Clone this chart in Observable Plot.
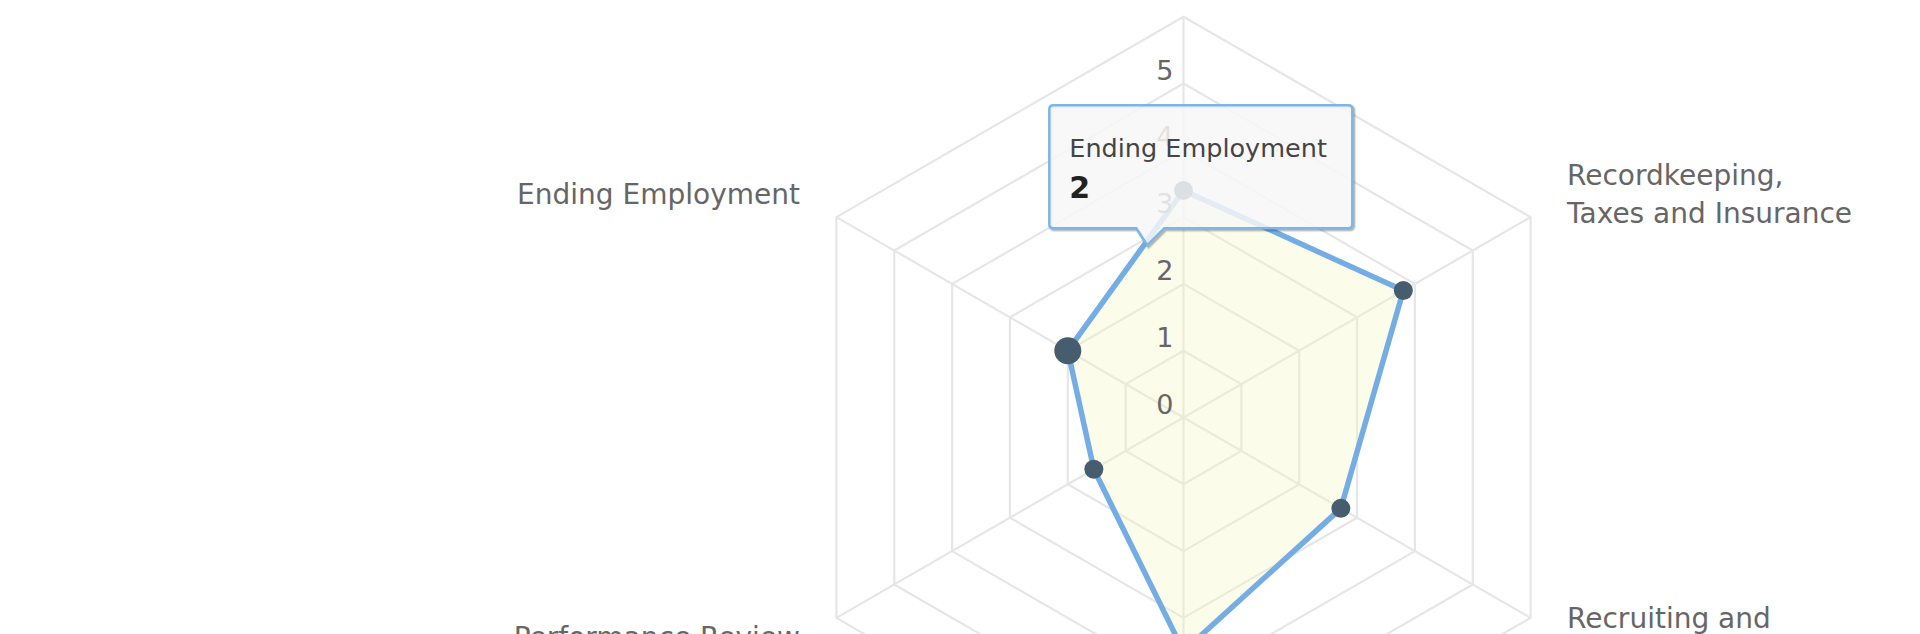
<!DOCTYPE html>
<html><head><meta charset="utf-8">
<script src="https://cdn.jsdelivr.net/npm/d3@7"></script>
<script src="https://cdn.jsdelivr.net/npm/@observablehq/plot@0.6"></script>
<style>
html,body{margin:0;padding:0;background:#fff;overflow:hidden;}
#chart{position:relative;width:1920px;height:634px;}
</style></head><body><div id="chart"></div>
<script>
// ---- data ----
const categories = ["Compensation and Benefits", "Recordkeeping,\nTaxes and Insurance", "Recruiting and\nHiring", "Training and Development", "Performance Review", "Ending Employment"];
const values = [3.4, 3.8, 2.72, 3.5, 1.55, 2];
const tickValues = [0, 1, 2, 3, 4, 5];
const gridLevels = [1, 2, 3, 4, 5, 6];
const hoveredCategory = "Ending Employment";
const tooltipHeader = "Ending Employment";
const tooltipValue = "2";

// ---- geometry ----
const W = 1920, H = 634;
const cxPx = 1183, cyPx = 417, unit = 66.8;
const maxR = 6;
const n = categories.length;
const ang = i => i * 2 * Math.PI / n;
const px = (r, i) => r * Math.sin(ang(i));
const py = (r, i) => r * Math.cos(ang(i));

const seriesPts = values.map((v, i) => ({cat: categories[i], v, x: px(v, i), y: py(v, i), hover: categories[i] === hoveredCategory}));
const gridPts = gridLevels.flatMap(l => d3.range(n).map(i => ({level: l, x: px(l, i), y: py(l, i)})));
const spokes = categories.map((c, i) => ({x1: 0, y1: 0, x2: px(maxR, i), y2: py(maxR, i)}));
const labelR = maxR + 0.63;
const labels = categories.map((c, i) => ({text: c, x: px(labelR, i), y: py(labelR, i), s: Math.sin(ang(i))}));
const yDom = [-(H - cyPx) / unit, cyPx / unit];
const inFrame = d => d.y > yDom[0] - 0.3 && d.y < yDom[1];

const plot = Plot.plot({
  width: W, height: H,
  margin: 0,
  x: {domain: [-cxPx / unit, (W - cxPx) / unit], range: [0, W], axis: null},
  y: {domain: yDom, range: [H, 0], axis: null},
  style: {fontFamily: "DejaVu Sans", fontSize: "28px", color: "#666", background: "#fff"},
  marks: [
    Plot.line(gridPts, {x: "x", y: "y", z: "level", curve: "linear-closed", stroke: "#e6e6e6", strokeWidth: 2.2}),
    Plot.link(spokes, {x1: "x1", y1: "y1", x2: "x2", y2: "y2", stroke: "#e6e6e6", strokeWidth: 2.2}),
    Plot.line(seriesPts, {x: "x", y: "y", curve: "linear-closed", fill: "#f6f6c0", fillOpacity: 0.32, stroke: "none"}),
    Plot.line(seriesPts, {x: "x", y: "y", curve: "linear-closed", stroke: "#74ace4", strokeWidth: 5.5, strokeLinejoin: "round"}),
    Plot.dot(seriesPts.filter(d => !d.hover), {x: "x", y: "y", r: 9.5, fill: "#465d6f", stroke: "none"}),
    Plot.dot(seriesPts.filter(d => d.hover), {x: "x", y: "y", r: 13.5, fill: "#465d6f", stroke: "none"}),
    Plot.text(tickValues, {x: () => 0, y: d => d, text: d => String(d), textAnchor: "end", lineAnchor: "bottom", dx: -10, dy: -4, fill: "#666", fontSize: 27}),
    Plot.text(labels.filter(d => d.s > 0.1 && inFrame(d)), {x: "x", y: "y", text: "text", textAnchor: "start", lineAnchor: "middle", lineHeight: 1.36, dy: -4, fill: "#666"}),
    Plot.text(labels.filter(d => d.s < -0.1 && inFrame(d)), {x: "x", y: "y", text: "text", textAnchor: "end", lineAnchor: "middle", lineHeight: 1.36, dy: -4, fill: "#666"}),
    Plot.text(labels.filter(d => Math.abs(d.s) <= 0.1 && inFrame(d)), {x: "x", y: "y", text: "text", textAnchor: "middle", lineAnchor: "middle", lineHeight: 1.36, fill: "#666"})
  ]
});
document.getElementById("chart").appendChild(plot);

// ---- tooltip, anchored to the hovered point through the plot's scales ----
const hp = seriesPts.find(d => d.hover);
const sx = plot.scale("x"), sy = plot.scale("y");
const X = sx.apply(hp.x), Y = sy.apply(hp.y);
const L = X - 18, T = Y - 245, Rr = X + 285, B = Y - 122, rad = 4;
const bl = X + 69, tipX = X + 80, tipY = Y - 105, br = X + 97;
const pathD = `M${L + rad},${T} H${Rr - rad} Q${Rr},${T} ${Rr},${T + rad} V${B - rad} Q${Rr},${B} ${Rr - rad},${B} H${br} L${tipX},${tipY} L${bl},${B} H${L + rad} Q${L},${B} ${L},${B - rad} V${T + rad} Q${L},${T} ${L + rad},${T} Z`;
const svg = d3.select(plot);
const g = svg.append("g").attr("text-anchor", "start");
[[5, 0.05], [3.5, 0.1], [2, 0.15]].forEach(([w, o]) => {
  g.append("path").attr("d", pathD).attr("transform", "translate(1.5,1.5)")
    .attr("fill", "none").attr("stroke", "#000").attr("stroke-opacity", o).attr("stroke-width", w);
});
g.append("path").attr("d", pathD).attr("fill", "#f7f7f7").attr("fill-opacity", 0.85)
  .attr("stroke", "#7cb5ec").attr("stroke-width", 2.5);
g.append("text").attr("x", X + 2).attr("y", Y - 193).attr("fill", "#444").attr("text-anchor", "start")
  .attr("font-family", "DejaVu Sans").attr("font-size", 25.5).text(tooltipHeader);
g.append("text").attr("x", X + 2).attr("y", Y - 152).attr("fill", "#222").attr("text-anchor", "start")
  .attr("font-family", "DejaVu Sans").attr("font-size", 30).attr("font-weight", "bold").text(tooltipValue);
</script>
</body></html>
